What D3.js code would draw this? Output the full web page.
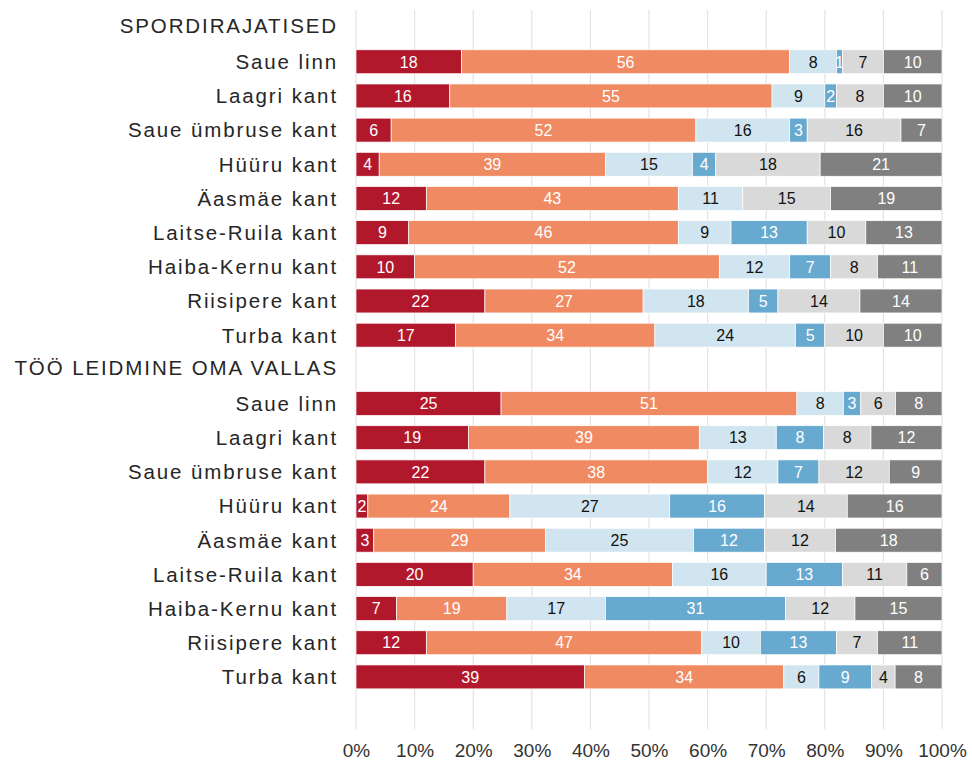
<!DOCTYPE html>
<html>
<head>
<meta charset="utf-8">
<script src="https://cdn.jsdelivr.net/npm/d3@7"></script>
<style>
  body { margin: 0; background: #fff; }
  text { font-family: "Liberation Sans", Arial, sans-serif; }
</style>
</head>
<body>
<div id="chart"></div>
<script>
const width = 972;
const height = 762;

// data
const groups = ["SPORDIRAJATISED", "TÖÖ LEIDMINE OMA VALLAS"];
const areas = ["Saue linn", "Laagri kant", "Saue ümbruse kant", "Hüüru kant", "Äasmäe kant",
  "Laitse-Ruila kant", "Haiba-Kernu kant", "Riisipere kant", "Turba kant"];
const keys = ["a", "b", "c", "d", "e", "f"];

const sport = [
  [18, 56, 8, 1, 7, 10],
  [16, 55, 9, 2, 8, 10],
  [6, 52, 16, 3, 16, 7],
  [4, 39, 15, 4, 18, 21],
  [12, 43, 11, 0, 15, 19],
  [9, 46, 9, 13, 10, 13],
  [10, 52, 12, 7, 8, 11],
  [22, 27, 18, 5, 14, 14],
  [17, 34, 24, 5, 10, 10]
];
const work = [
  [25, 51, 8, 3, 6, 8],
  [19, 39, 13, 8, 8, 12],
  [22, 38, 12, 7, 12, 9],
  [2, 24, 27, 16, 14, 16],
  [3, 29, 25, 12, 12, 18],
  [20, 34, 16, 13, 11, 6],
  [7, 19, 17, 31, 12, 15],
  [12, 47, 10, 13, 7, 11],
  [39, 34, 6, 9, 4, 8]
];
const ticks = [0, 0.1, 0.2, 0.3, 0.4, 0.5, 0.6, 0.7, 0.8, 0.9, 1];

const colors = ["#b2182b", "#ef8a62", "#d1e5f0", "#67a9cf", "#d9d9d9", "#808080"];
const textColors = ["#fff", "#fff", "#111", "#fff", "#111", "#fff"];

// build rows: header + areas for each group
let rows = [];
[sport, work].forEach((vals, g) => {
  rows.push({ id: "h" + g, label: groups[g], header: true });
  vals.forEach((v, i) => {
    let r = { id: g + "_" + i, label: areas[i], header: false };
    keys.forEach((k, j) => r[k] = v[j]);
    rows.push(r);
  });
});
const dataRows = rows.filter(r => !r.header);

const svg = d3.select("#chart").append("svg")
  .attr("width", width)
  .attr("height", height);

const x = d3.scaleLinear().domain([0, 1]).range([356, 942]);
const y = d3.scaleBand()
  .domain(rows.map(r => r.id))
  .range([10.5, 694])
  .paddingInner(0.3)
  .paddingOuter(0.15);

// gridlines
svg.append("g")
  .selectAll("line")
  .data(ticks)
  .join("line")
  .attr("x1", d => x(d)).attr("x2", d => x(d))
  .attr("y1", 10).attr("y2", 729)
  .attr("stroke", "#e3e3e3")
  .attr("stroke-width", 1.2);

// x axis labels
const xAxis = d3.axisBottom(x).tickValues(ticks).tickFormat(d3.format(".0%")).tickSize(0).tickPadding(0);
const ax = svg.append("g")
  .attr("transform", "translate(0,743)")
  .call(xAxis);
ax.select(".domain").remove();
ax.selectAll("text")
  .attr("font-size", 19)
  .attr("fill", "#333")
  .attr("font-family", "Liberation Sans, Arial, sans-serif");

const stack = d3.stack().keys(keys).offset(d3.stackOffsetExpand);
const series = stack(dataRows);

const layer = svg.append("g")
  .selectAll("g")
  .data(series)
  .join("g")
  .attr("fill", (d, i) => colors[i]);

layer.selectAll("rect")
  .data(d => d.filter(s => s.data[d.key] > 0))
  .join("rect")
  .attr("x", d => x(d[0]))
  .attr("y", d => y(d.data.id))
  .attr("width", d => x(d[1]) - x(d[0]))
  .attr("height", y.bandwidth())
  .attr("stroke", "#fff")
  .attr("stroke-width", 0.7);

layer.selectAll("text")
  .data((d, i) => d.filter(s => s.data[d.key] > 0).map(s => ({ s: s, k: d.key, i: i })))
  .join("text")
  .attr("x", d => (x(d.s[0]) + x(d.s[1])) / 2)
  .attr("y", d => y(d.s.data.id) + y.bandwidth() / 2)
  .attr("dy", "0.36em")
  .attr("text-anchor", "middle")
  .attr("font-size", 16)
  .attr("fill", d => textColors[d.i])
  .text(d => d.s.data[d.k]);

// category labels
svg.append("g")
  .selectAll("text")
  .data(rows)
  .join("text")
  .attr("x", 338)
  .attr("y", d => y(d.id) + y.bandwidth() / 2 + (d.header ? -2 : 0))
  .attr("dy", "0.36em")
  .attr("text-anchor", "end")
  .attr("font-size", 20.5)
  .attr("letter-spacing", 1.9)
  .attr("fill", "#262626")
  .text(d => d.label);
</script>
</body>
</html>
